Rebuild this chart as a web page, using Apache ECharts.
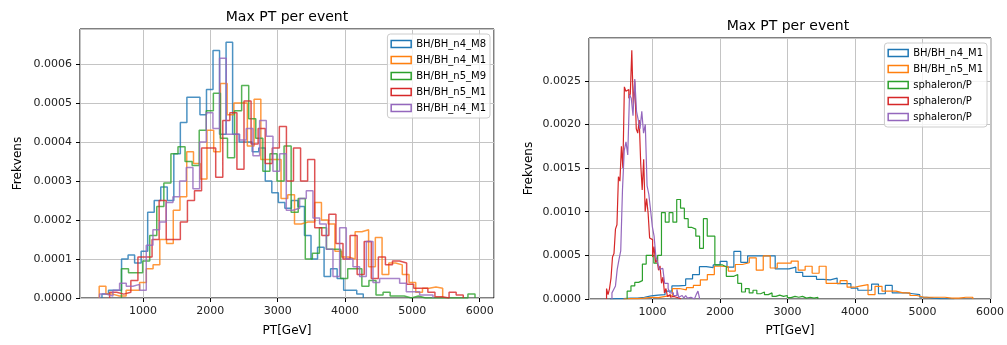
<!DOCTYPE html>
<html>
<head>
<meta charset="utf-8">
<script src="https://cdn.jsdelivr.net/npm/echarts@6/dist/echarts.min.js"></script>
<style>
  html, body { margin: 0; padding: 0; background: #fff; }
  #chart { width: 1007px; height: 345px; }
</style>
</head>
<body>
<div id="chart"></div>
<script>
const FONT = 'DejaVu Sans'
const colors = ['#1f77b4', '#ff7f0e', '#2ca02c', '#d62728', '#9467bd']

const leftNames = ['BH/BH_n4_M8', 'BH/BH_n4_M1', 'BH/BH_n5_M9', 'BH/BH_n5_M1', 'BH/BH_n4_M1']
const rightNames = ['BH/BH_n4_M1', 'BH/BH_n5_M1', 'sphaleron/P', 'sphaleron/P', 'sphaleron/P']

// first bin edge and bin width, GeV
const leftBinStart = [391, 350, 680, 505, 356]
const leftBinWidth = [97, 100, 105, 105, 99]
const rightBinStart = [370, 571, 625, 320, 400]
const rightBinWidth = [102, 103.5, 56.5, 22, 26]

// frequency per bin, in units of 1e-4
const leftN4M8 = [0.1, 0.2, 0.2, 1.0, 1.1, 0.9, 1.2, 2.2, 2.5, 2.85, 2.5, 3.7, 4.5, 5.15, 5.15, 4.7, 5.35, 6.35, 4.2, 6.56,
  4.2, 4.0, 4.0, 3.75, 3.85, 3.0, 2.7, 2.45, 2.3, 2.5, 2.35, 1.6, 1.0, 1.3, 0.55, 0.75, 0.5, 0.2, 0.2, 0.1]
const leftN4M1 = [0.3, 0.1, 0.05, 0.05, 0.2, 0.2, 0.4, 0.75, 0.85, 1.5, 1.4, 2.25, 2.6, 3.75, 3.45, 3.05, 4.3, 3.75, 5.5, 4.7,
  5.0, 5.0, 3.9, 5.1, 3.55, 3.55, 3.55, 2.55, 2.65, 1.9, 1.95, 1.95, 2.45, 2.0, 1.9, 1.2, 1.05, 1.0, 1.7, 1.75,
  0.8, 1.55, 0.6, 0.9, 0.85, 0.6, 0.4, 0.15, 0.25, 0.28, 0.25]
const leftN5M9 = [0.75, 0.65, 0.65, 0.95, 1.6, 2.35, 2.95, 3.7, 3.88, 3.5, 3.4, 4.3, 4.8, 5.25, 4.1, 3.6, 4.8, 5.45, 4.6, 4.1,
  3.25, 3.7, 3.0, 3.9, 2.2, 2.55, 1.0, 1.15, 1.8, 1.25, 1.25, 0.5, 0.75, 0.75, 0.3, 0.45, 0.08, 0.15, 0.05, 0.05,
  0, 0.05, 0, 0, 0, 0, 0, 0, 0, 0.1]
const leftN5M1 = [0.15, 0.1, 0.15, 0.45, 1.05, 1.05, 1.5, 2.5, 1.5, 1.5, 1.95, 2.5, 2.75, 3.85, 3.85, 3.1, 4.55, 4.75, 3.3, 5.05,
  3.95, 4.35, 3.45, 3.85, 4.4, 3.0, 3.85, 3.0, 3.55, 1.8, 1.6, 2.15, 1.4, 1.0, 1.6, 0.6, 1.45, 0.5, 1.05, 0.85,
  0.95, 0.9, 0.35, 0.25, 0.25, 0.15, 0.03, 0, 0.15, 0.08]
const leftN4M1b = [0.1, 0.05, 0.2, 0.38, 0.3, 0.35, 0.2, 1.35, 1.75, 1.95, 2.45, 2.6, 3.0, 3.35, 2.8, 4.0, 4.75, 4.35, 6.15, 4.2,
  4.2, 4.05, 4.35, 3.65, 4.55, 4.15, 3.25, 3.7, 2.25, 2.3, 2.55, 2.75, 2.05, 1.9, 1.25, 0.55, 1.8, 1.0, 0.8, 0.55,
  1.45, 0.4, 0.5, 0.5, 0.5, 0.38, 0.16, 0.16, 0.08, 0.08]

const rightN4M1 = [0.05, 0.05, 0.1, 0.1, 0.2, 0.35, 0.45, 0.5, 0.9, 1.5, 1.55, 2.3, 2.8, 3.7, 3.6, 3.9, 4.3, 3.65, 5.45, 4.2,
  4.95, 4.95, 4.95, 4.95, 3.45, 3.45, 3.65, 3.05, 2.6, 2.6, 2.25, 2.2, 2.4, 1.75, 1.75, 1.25, 1.0, 1.0, 1.7, 0.6,
  1.55, 0.7, 0.7, 0.6, 0.5, 0.2, 0.1, 0.05, 0.03, 0.03]
const rightN5M1 = [0.05, 0.05, 0.1, 0.2, 0.15, 0.3, 0.4, 1.2, 1.05, 1.3, 1.55, 2.2, 2.8, 3.75, 3.7, 3.2, 3.95, 4.15, 4.7, 3.3,
  4.95, 3.55, 4.1, 4.1, 4.35, 3.3, 3.75, 2.95, 3.75, 1.8, 1.8, 2.1, 1.35, 1.5, 1.65, 0.5, 1.45, 0.9, 0.9, 0.7,
  0.7, 0.4, 0.2, 0.2, 0.2, 0.2, 0.1, 0.1, 0.2, 0.2]
const rightSphA = [0.9, 1.5, 1.9, 2.1, 4.0, 5.0, 5.0, 4.1, 5.0, 9.9, 8.8, 9.9, 8.8, 11.4, 10.4, 9.2, 8.2, 8.0, 7.2, 5.8,
  9.2, 7.2, 7.2, 3.9, 3.9, 3.7, 2.6, 2.6, 2.8, 1.8, 0.8, 1.2, 0.7, 1.0, 0.6, 0.8, 0.5, 0.7, 0.3, 0.45,
  0.3, 0.4, 0.15, 0.3, 0.2, 0.3, 0.1, 0.2, 0.1, 0.2]
const rightSphB = [1.2, 0.5, 1.2, 2.4, 4.8, 5.2, 8.0, 8.5, 14.0, 13.5, 17.5, 15.0, 24.3, 23.8, 24.0, 23.0, 23.5, 28.5, 22.0, 25.0,
  19.5, 19.0, 20.5, 15.5, 12.5, 16.0, 10.0, 11.5, 9.8, 7.0, 6.8, 4.8, 6.0, 4.2, 4.5, 3.3, 3.8, 1.8, 2.5, 0.7,
  1.2, 0.3, 0.5, 0.2, 0.3, 0.1, 0.2, 0, 0.1, 0.1]
const rightSphC = [0.7, 1.1, 1.5, 3.4, 4.5, 5.5, 12.5, 17.0, 18.0, 16.5, 23.4, 23.0, 21.0, 25.2, 21.5, 20.5, 19.5, 21.5, 19.0, 20.0,
  13.0, 12.0, 10.2, 8.3, 7.2, 4.9, 4.2, 3.4, 3.5, 3.3, 1.8, 1.8, 1.2, 0.7, 0.7, 0.4, 0.4, 1.1, 0.2, 0.4,
  0.3, 0.1, 0.4, 0.1, 0.2, 0.1, 0, 0.1, 0.5, 0.9]

const leftValues = [leftN4M8, leftN4M1, leftN5M9, leftN5M1, leftN4M1b]
const rightValues = [rightN4M1, rightN5M1, rightSphA, rightSphB, rightSphC]
const UNIT = 1e-4

// outline of a histogram: up at the first edge, a step per bin, down at the last edge
function stepData(start, width, vals) {
  const pts = [[start, 0]]
  vals.forEach((v, i) => pts.push([start + i * width, v * UNIT]))
  pts.push([start + vals.length * width, 0])
  return pts
}

// names repeat inside a legend, so each series gets a suffix that the legend hides
const uid = (name, panel, i) => name + '#' + panel + '' + i

function makeSeries(names, starts, widths, values, panel, lineWidth, opacity) {
  return names.map((n, i) => ({
    type: 'line',
    name: uid(n, panel, i),
    xAxisIndex: panel,
    yAxisIndex: panel,
    data: stepData(starts[i], widths[i], values[i]),
    step: 'end',
    symbol: 'none',
    silent: true,
    animation: false,
    lineStyle: { color: colors[i], width: lineWidth, opacity: opacity },
    itemStyle: { color: colors[i] },
    z: 2 + i,
  }))
}

function makeLegend(names, panel, right, top) {
  return {
    orient: 'vertical',
    right: right,
    top: top,
    icon: 'rect',
    itemWidth: 20,
    itemHeight: 7,
    itemGap: 4,
    itemTextGap: 10,
    padding: [4, 4, 4, 3],
    backgroundColor: 'rgba(255,255,255,0.8)',
    borderColor: '#cccccc',
    borderWidth: 1,
    borderRadius: 3,
    selectedMode: false,
    formatter: (name) => name.split('#')[0],
    textStyle: { fontSize: 10, color: '#000', fontFamily: FONT, lineHeight: 12 },
    data: names.map((n, i) => ({
      name: uid(n, panel, i),
      itemStyle: { color: 'transparent', borderColor: colors[i], borderWidth: 1.5 },
    })),
  }
}

function xAxisCfg(gridIndex, min, max, nameGap) {
  return {
    type: 'value',
    gridIndex: gridIndex,
    min: min,
    max: max,
    splitNumber: 5,
    name: 'PT[GeV]',
    nameLocation: 'middle',
    nameGap: nameGap,
    nameTextStyle: { fontSize: 12, color: '#000', fontFamily: FONT },
    axisLine: { show: false },
    axisTick: { show: true, length: 4, lineStyle: { color: '#000' } },
    axisLabel: {
      fontSize: 11, color: '#222', margin: 8, showMinLabel: false, showMaxLabel: false, fontFamily: FONT,
      formatter: (v) => String(Math.round(v)),
    },
    splitLine: { show: true, lineStyle: { color: '#c4c4c4', width: 1 } },
  }
}

function yAxisCfg(gridIndex, max, interval, nameGap) {
  return {
    type: 'value',
    gridIndex: gridIndex,
    min: 0,
    max: max,
    interval: interval,
    name: 'Frekvens',
    nameLocation: 'middle',
    nameGap: nameGap,
    nameTextStyle: { fontSize: 12, color: '#000', fontFamily: FONT },
    axisLine: { show: false },
    axisTick: { show: true, length: 4, lineStyle: { color: '#000' } },
    axisLabel: {
      fontSize: 11, color: '#222', margin: 8, showMaxLabel: false, fontFamily: FONT,
      formatter: (v) => v.toFixed(4),
    },
    splitLine: { show: true, lineStyle: { color: '#c4c4c4', width: 1 } },
  }
}

const chart = echarts.init(document.getElementById('chart'), null, { renderer: 'canvas' })
chart.setOption({
  animation: false,
  backgroundColor: '#fff',
  textStyle: { fontFamily: FONT },
  grid: [
    { left: 80, top: 29, width: 414, height: 269, show: true, borderColor: '#000', borderWidth: 1, backgroundColor: 'transparent' },
    { left: 589, top: 38, width: 402, height: 261, show: true, borderColor: '#000', borderWidth: 1, backgroundColor: 'transparent' },
  ],
  xAxis: [xAxisCfg(0, 65, 6212, 27), xAxisCfg(1, 60, 6015, 26)],
  yAxis: [yAxisCfg(0, 0.00069, 0.0001, 56), yAxisCfg(1, 0.00299, 0.0005, 54)],
  legend: [makeLegend(leftNames, 0, 517, 34), makeLegend(rightNames, 1, 20, 43)],
  graphic: [
    { type: 'text', x: 287, y: 17, style: { text: 'Max PT per event', align: 'center', verticalAlign: 'middle', fontSize: 14, fontFamily: FONT, fill: '#000' } },
    { type: 'text', x: 788, y: 26, style: { text: 'Max PT per event', align: 'center', verticalAlign: 'middle', fontSize: 14, fontFamily: FONT, fill: '#000' } },
  ],
  series: [
    ...makeSeries(leftNames, leftBinStart, leftBinWidth, leftValues, 0, 1.5, 0.8),
    ...makeSeries(rightNames, rightBinStart, rightBinWidth, rightValues, 1, 1.2, 1),
  ],
})
</script>
</body>
</html>
